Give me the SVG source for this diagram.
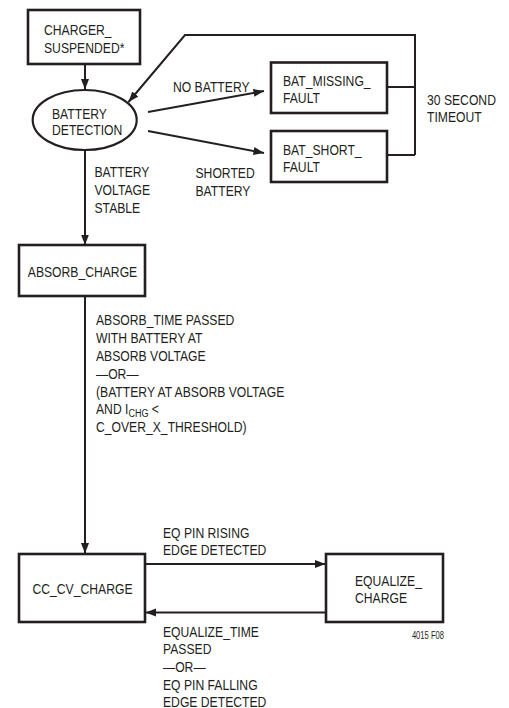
<svg xmlns="http://www.w3.org/2000/svg" width="509" height="708" viewBox="0 0 509 708">
<defs>
<style>
.t{font-family:"Liberation Sans",Arial,Helvetica,sans-serif;font-size:15.5px;fill:#231f20}
.m{text-anchor:middle}
.box{fill:#fff;stroke:#231f20;stroke-width:2.6}
.c{stroke:#231f20;stroke-width:2;fill:none}
.ca{stroke:#231f20;stroke-width:2;fill:none;marker-end:url(#ah)}
</style>
<marker id="ah" markerUnits="userSpaceOnUse" markerWidth="11" markerHeight="9" viewBox="0 0 11 9" refX="10.5" refY="4.5" orient="auto">
<path d="M0,0.5 L10.5,4.5 L0,8.5 z" fill="#231f20"/>
</marker>
</defs>
<rect width="509" height="708" fill="#fff"/>

<g id="connectors">
<line class="ca" x1="85" y1="64" x2="85" y2="89.5"/>
<line class="ca" x1="85" y1="150" x2="85" y2="245"/>
<line class="ca" x1="85" y1="296" x2="85" y2="553.5"/>
<line class="ca" x1="148" y1="112" x2="264" y2="91"/>
<line class="ca" x1="148" y1="131" x2="264" y2="153"/>
<line class="c" x1="387" y1="87" x2="415" y2="87"/>
<line class="c" x1="387" y1="155" x2="415" y2="155"/>
<polyline class="ca" points="415,155 415,35 185,35 128.5,102"/>
<line class="ca" x1="145" y1="564" x2="325.5" y2="564"/>
<line class="ca" x1="326" y1="612.5" x2="145.5" y2="612.5"/>
</g>

<g id="connector-labels">
<text class="t" transform="translate(173 92) scale(.785 1)">NO BATTERY</text>
<text class="t" transform="translate(195.5 178.3) scale(.785 1)"><tspan x="0" y="0">SHORTED</tspan><tspan x="0" dy="17.8">BATTERY</tspan></text>
<text class="t" transform="translate(94.5 176.7) scale(.785 1)"><tspan x="0" y="0">BATTERY</tspan><tspan x="0" dy="18.3">VOLTAGE</tspan><tspan x="0" dy="18.3">STABLE</tspan></text>
<text class="t" transform="translate(427 104.5) scale(.785 1)"><tspan x="0" y="0">30 SECOND</tspan><tspan x="0" dy="17.5">TIMEOUT</tspan></text>
<text class="t" transform="translate(96 325) scale(.785 1)"><tspan x="0" y="0">ABSORB_TIME PASSED</tspan><tspan x="0" dy="17.9">WITH BATTERY AT</tspan><tspan x="0" dy="17.9">ABSORB VOLTAGE</tspan><tspan x="0" dy="17.9">—OR—</tspan><tspan x="0" dy="17.9">(BATTERY AT ABSORB VOLTAGE</tspan><tspan x="0" dy="17.9">AND I</tspan><tspan font-size="11.5px" dy="2.5">CHG</tspan><tspan dy="-2.5"> &lt;</tspan><tspan x="0" dy="17.9">C_OVER_X_THRESHOLD)</tspan></text>
<text class="t" transform="translate(163 537.7) scale(.785 1)"><tspan x="0" y="0">EQ PIN RISING</tspan><tspan x="0" dy="17.5">EDGE DETECTED</tspan></text>
<text class="t" transform="translate(163 636.5) scale(.785 1)"><tspan x="0" y="0">EQUALIZE_TIME</tspan><tspan x="0" dy="17.7">PASSED</tspan><tspan x="0" dy="17.7">—OR—</tspan><tspan x="0" dy="17.7">EQ PIN FALLING</tspan><tspan x="0" dy="17.6">EDGE DETECTED</tspan></text>
<text class="t" style="font-size:10px;text-anchor:end" transform="translate(444 639.3) scale(.76 1)">4015 F08</text>
</g>

<g id="n_charger_suspended">
<rect class="box" x="28" y="10" width="112" height="54"/>
<text class="t" transform="translate(44 35) scale(.785 1)"><tspan x="0" y="0">CHARGER_</tspan><tspan x="0" dy="18">SUSPENDED*</tspan></text>
</g>

<g id="n_battery_detection">
<ellipse class="box" style="stroke-width:2.2" cx="84.7" cy="120" rx="52" ry="30"/>
<text class="t" transform="translate(52 119) scale(.785 1)"><tspan x="0" y="0">BATTERY</tspan><tspan x="0" dy="16.5">DETECTION</tspan></text>
</g>

<g id="n_bat_missing_fault">
<rect class="box" x="271" y="62.5" width="116" height="50.5"/>
<text class="t" transform="translate(283 86) scale(.785 1)"><tspan x="0" y="0">BAT_MISSING_</tspan><tspan x="0" dy="17.5">FAULT</tspan></text>
</g>

<g id="n_bat_short_fault">
<rect class="box" x="271" y="131" width="116" height="51"/>
<text class="t" transform="translate(283 155) scale(.785 1)"><tspan x="0" y="0">BAT_SHORT_</tspan><tspan x="0" dy="17.5">FAULT</tspan></text>
</g>

<g id="n_absorb_charge">
<rect class="box" x="19" y="245" width="126" height="51"/>
<text class="t m" transform="translate(82.5 276.5) scale(.785 1)">ABSORB_CHARGE</text>
</g>

<g id="n_cc_cv_charge">
<rect class="box" x="19" y="554" width="126" height="68"/>
<text class="t m" transform="translate(82.5 594) scale(.785 1)">CC_CV_CHARGE</text>
</g>

<g id="n_equalize_charge">
<rect class="box" x="326" y="554" width="117" height="68"/>
<text class="t" transform="translate(355 585.7) scale(.785 1)"><tspan x="0" y="0">EQUALIZE_</tspan><tspan x="0" dy="17.6">CHARGE</tspan></text>
</g>
</svg>
